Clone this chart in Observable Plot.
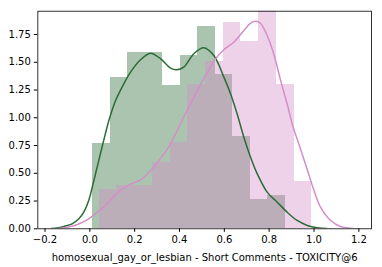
<!DOCTYPE html>
<html>
<head>
<meta charset="utf-8">
<script src="https://cdn.jsdelivr.net/npm/d3@7"></script>
<script src="https://cdn.jsdelivr.net/npm/@observablehq/plot@0.6"></script>
<style>
  html, body { margin: 0; padding: 0; background: #fff; }
</style>
</head>
<body>
<div id="chart"></div>
<script>
// Histogram bin edges and densities
const greenEdges = [0.014, 0.092, 0.170, 0.248, 0.326, 0.404, 0.482, 0.560, 0.638, 0.716, 0.794, 0.872];
const greenDensity = [0.771, 1.363, 1.588, 1.588, 1.291, 1.562, 1.823, 1.390, 0.830, 0.264, 0.300];
const pinkEdges = [0.042, 0.121, 0.200, 0.279, 0.358, 0.437, 0.516, 0.595, 0.674, 0.753, 0.832, 0.911, 0.990];
const pinkDensity = [0.354, 0.390, 0.390, 0.595, 0.780, 1.300, 1.507, 1.856, 1.687, 2.090, 1.300, 0.426];

// KDE curves
const greenKdeX = [-0.172, -0.140, -0.116, -0.079, -0.049, -0.027, -0.005, 0.018, 0.040, 0.062, 0.085, 0.115, 0.144, 0.178, 0.226, 0.271, 0.315, 0.360, 0.387, 0.419, 0.464, 0.508, 0.553, 0.598, 0.628, 0.657, 0.687, 0.717, 0.747, 0.791, 0.836, 0.880, 0.925, 0.970, 1.014, 1.057];
const greenKdeY = [0.002, 0.010, 0.021, 0.045, 0.090, 0.150, 0.255, 0.435, 0.616, 0.796, 0.976, 1.156, 1.276, 1.400, 1.523, 1.582, 1.532, 1.447, 1.432, 1.456, 1.577, 1.631, 1.561, 1.366, 1.215, 1.036, 0.825, 0.645, 0.495, 0.330, 0.240, 0.150, 0.075, 0.030, 0.009, 0.002];
const pinkKdeX = [-0.140, -0.101, -0.056, -0.012, 0.025, 0.062, 0.100, 0.137, 0.178, 0.226, 0.271, 0.315, 0.360, 0.404, 0.441, 0.494, 0.538, 0.561, 0.598, 0.642, 0.687, 0.717, 0.739, 0.761, 0.791, 0.821, 0.851, 0.880, 0.907, 0.932, 0.970, 0.999, 1.029, 1.074, 1.118, 1.185];
const pinkKdeY = [0.002, 0.014, 0.039, 0.081, 0.135, 0.195, 0.275, 0.350, 0.398, 0.441, 0.525, 0.631, 0.766, 0.946, 1.095, 1.300, 1.456, 1.532, 1.613, 1.681, 1.786, 1.852, 1.870, 1.852, 1.741, 1.570, 1.337, 1.126, 0.915, 0.766, 0.532, 0.351, 0.195, 0.075, 0.021, 0.001];

const xTicks = [-0.2, 0.0, 0.2, 0.4, 0.6, 0.8, 1.0, 1.2];
const yTicks = [0.00, 0.25, 0.50, 0.75, 1.00, 1.25, 1.50, 1.75];
const xLabel = "homosexual_gay_or_lesbian - Short Comments - TOXICITY@6";

const greenColor = "#2a6b36";
const pinkColor = "#d48fc8";

const greenBins = greenDensity.map((d, i) => ({x1: greenEdges[i], x2: greenEdges[i + 1], y: d}));
const pinkBins = pinkDensity.map((d, i) => ({x1: pinkEdges[i], x2: pinkEdges[i + 1], y: d}));
const greenKde = greenKdeX.map((x, i) => ({x, y: greenKdeY[i]}));
const pinkKde = pinkKdeX.map((x, i) => ({x, y: pinkKdeY[i]}));

const chart = Plot.plot({
  width: 382,
  height: 267,
  marginLeft: 37.33,
  marginRight: 11,
  marginTop: 10.7,
  marginBottom: 38.7,
  style: {fontFamily: "DejaVu Sans", fontSize: "10px", color: "black", background: "white"},
  x: {domain: [-0.232, 1.2565]},
  y: {domain: [0, 1.96]},
  marks: [
    Plot.rectY(greenBins, {x1: "x1", x2: "x2", y: "y", fill: greenColor, fillOpacity: 0.4, clip: true, shapeRendering: "crispEdges"}),
    Plot.rectY(pinkBins, {x1: "x1", x2: "x2", y: "y", fill: pinkColor, fillOpacity: 0.4, clip: true, shapeRendering: "crispEdges"}),
    Plot.line(greenKde, {x: "x", y: "y", stroke: greenColor, strokeWidth: 1.5, curve: "catmull-rom", clip: true}),
    Plot.line(pinkKde, {x: "x", y: "y", stroke: pinkColor, strokeWidth: 1.5, curve: "catmull-rom", clip: true}),
    Plot.axisX({ticks: xTicks, tickSize: 3.5, tickPadding: 3.5, label: null,
      tickFormat: d => d.toFixed(1).replace("-", "\u2212")}),
    Plot.axisY({ticks: yTicks, tickSize: 3.5, tickPadding: 3.5, label: null,
      tickFormat: d => d.toFixed(2)}),
    Plot.frame({stroke: "black", strokeWidth: 0.8}),
    Plot.text([xLabel], {frameAnchor: "bottom", lineAnchor: "middle", dy: 29, text: d => d, fill: "black", fontSize: 10})
  ]
});
document.getElementById("chart").appendChild(chart);
</script>
</body>
</html>
